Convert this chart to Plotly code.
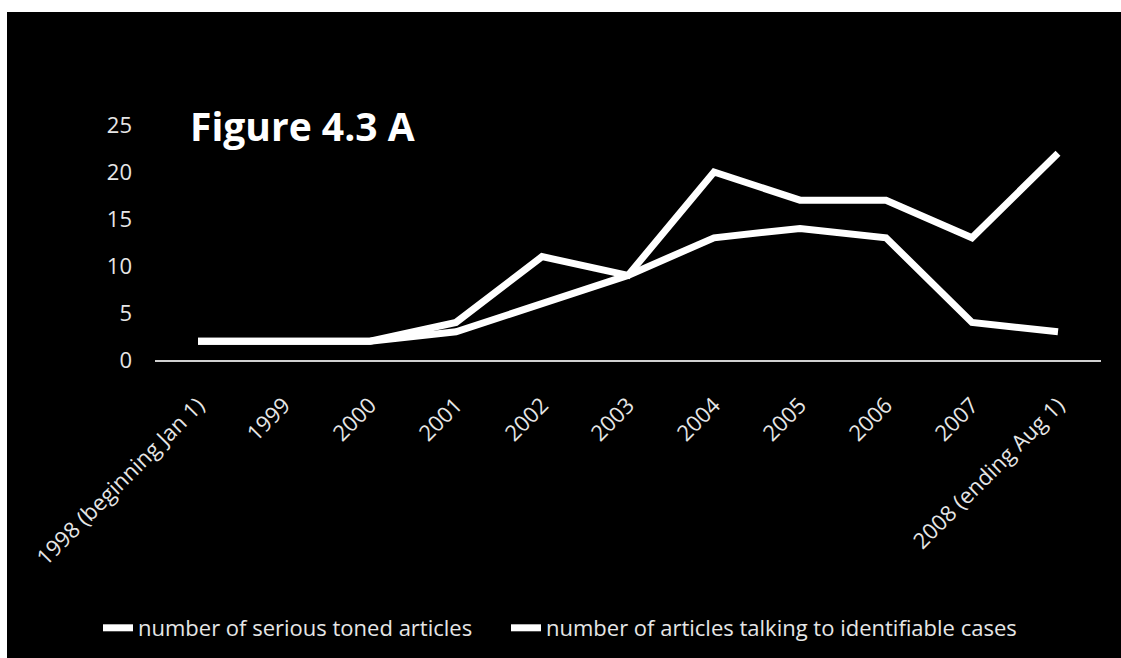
import plotly.graph_objects as go

categories = ["1998 (beginning Jan 1)", "1999", "2000", "2001", "2002", "2003",
              "2004", "2005", "2006", "2007", "2008 (ending Aug 1)"]
serious_toned = [2, 2, 2, 4, 11, 9, 20, 17, 17, 13, 22]
identifiable_cases = [2, 2, 2, 3, 6, 9, 13, 14, 13, 4, 3]
y_ticks = [0, 5, 10, 15, 20, 25]

FONT = "Open Sans"
L, R, T, B = 155, 20, 125, 298
W, H = 1121, 658
pw, ph = W - L - R, H - T - B

def px_x(px):
    return (px - L) / pw

def px_y(py):
    return (H - B - py) / ph

fig = go.Figure()
fig.add_trace(go.Scatter(x=categories, y=serious_toned, mode="lines",
                         name="number of serious toned articles",
                         line=dict(color="white", width=7), legend="legend"))
fig.add_trace(go.Scatter(x=categories, y=identifiable_cases, mode="lines",
                         name="number of articles talking to identifiable cases",
                         line=dict(color="white", width=7), legend="legend2"))

# black canvas with white scan border at top and left
fig.add_shape(type="rect", xref="paper", yref="paper", layer="below",
              x0=px_x(7), x1=px_x(1130), y0=px_y(670), y1=px_y(12),
              fillcolor="black", line=dict(width=0))

fig.add_annotation(text="<b>Figure 4.3 A</b>", xref="paper", yref="paper",
                   x=px_x(188), y=px_y(125), xanchor="left", yanchor="middle",
                   showarrow=False, font=dict(family=FONT, size=39, color="white"))

legend_common = dict(orientation="h", y=px_y(628), xanchor="left", yanchor="middle",
                     font=dict(family=FONT, size=22, color="#e6e6e6"),
                     bgcolor="rgba(0,0,0,0)", itemwidth=30)

fig.update_layout(
    width=W, height=H,
    margin=dict(l=L, r=R, t=T, b=B, autoexpand=False),
    paper_bgcolor="white",
    plot_bgcolor="black",
    font=dict(family=FONT, color="#e6e6e6", size=22),
    showlegend=True,
    legend=dict(x=px_x(98), **legend_common),
    legend2=dict(x=px_x(506), **legend_common),
    xaxis=dict(type="category", categoryorder="array", categoryarray=categories,
               range=[-0.5, len(categories) - 0.5], tickangle=-45,
               showgrid=False, zeroline=False, showline=True,
               linecolor="#d0d0d0", linewidth=1.5, ticks="",
               ticklabelstandoff=22,
               tickfont=dict(family=FONT, size=22, color="#e6e6e6"),
               automargin=False),
    yaxis=dict(range=[0, 25], tickvals=y_ticks, showgrid=False, zeroline=False,
               showline=False, ticks="", ticklabelstandoff=22,
               tickfont=dict(family=FONT, size=22, color="#e6e6e6"),
               automargin=False),
)

fig.write_html("out.html")
